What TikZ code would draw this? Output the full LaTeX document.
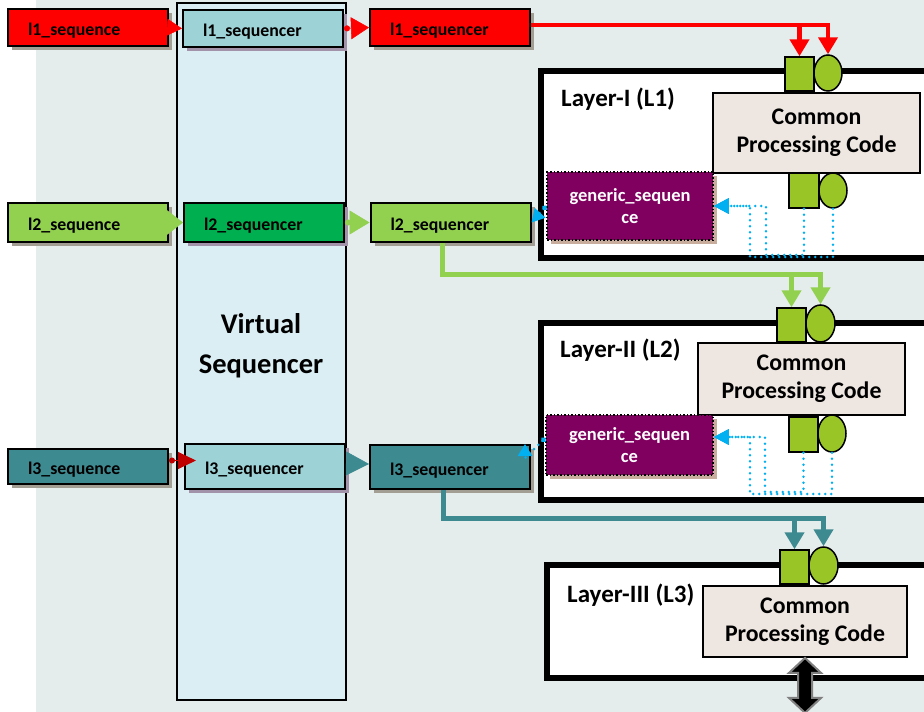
\documentclass[tikz,border=0pt]{standalone}
\usepackage{fontspec}
\setmainfont{Carlito}
\usetikzlibrary{arrows.meta,shapes.geometric,shadows}
\definecolor{bgc}{HTML}{E5ECEC}
\definecolor{vcol}{HTML}{DAEEF3}
\definecolor{lgreen}{HTML}{92D050}
\definecolor{dgreen}{HTML}{00B050}
\definecolor{tealc}{HTML}{3E8A91}
\definecolor{lteal}{HTML}{9DD3D7}
\definecolor{purp}{HTML}{800060}
\definecolor{sqg}{HTML}{99C526}
\definecolor{cpcfill}{HTML}{EEE6E0}
\definecolor{bluedot}{HTML}{00B0F0}
\definecolor{shg}{HTML}{A39E94}
\definecolor{shp}{HTML}{A393AA}
\definecolor{shb}{HTML}{C8AC9C}
\definecolor{dred}{HTML}{C00000}
\definecolor{redc}{HTML}{FF0000}
\begin{document}
\begin{tikzpicture}[x=1pt,y=-1pt,
  seqbox/.style={draw=black, line width=2pt, text width=120pt, inner xsep=20pt, inner ysep=0pt,
    text height=16pt, text depth=0pt,
    align=left, font=\fontsize{17.8}{20}\selectfont\bfseries,
    drop shadow={shadow xshift=4pt, shadow yshift=-4pt, fill=shg, opacity=1}},
  vbox/.style={seqbox, fill=lteal, drop shadow={shadow xshift=4pt, shadow yshift=-4pt, fill=shp, opacity=1}},
  layerbox/.style={draw=black, line width=6pt, fill=white, minimum width=400pt},
  laylbl/.style={anchor=base west, inner sep=0pt, font=\fontsize{25}{30}\selectfont\bfseries},
  cpc/.style={draw=black, line width=1.8pt, fill=cpcfill, align=center, inner sep=0pt,
    font=\fontsize{23.8}{28}\selectfont\bfseries},
  gen/.style={draw=black, dotted, line width=1.5pt, fill=purp, text=white, align=center,
    font=\fontsize{18.5}{22}\selectfont\bfseries,
    drop shadow={shadow xshift=4pt, shadow yshift=-4pt, fill=shb, opacity=1}},
  sqbox/.style={draw=black, line width=1.5pt, fill=sqg, inner sep=0pt},
  cibox/.style={ellipse, draw=black, line width=1.5pt, fill=sqg, inner sep=0pt},
  bdot/.style={draw=bluedot, line width=2.8pt, dash pattern=on 0pt off 6pt, line cap=round},
  feed/.style={line width=5pt, -{Triangle[length=17pt,width=19pt]}}
]
\useasboundingbox (0,0) rectangle (924,712);
\fill[bgc] (36,0) rectangle (924,712);
% virtual sequencer column
\node[draw=black, line width=1.2pt, fill=vcol, minimum width=169pt, minimum height=697pt] (vcolm) at (261.5,351.5) {};
\node[align=center, font=\fontsize{28.5}{40}\selectfont\bfseries] (vlabel) at (261,346) {Virtual\\Sequencer};

% layer boxes
\node[layerbox, minimum height=187pt] (lay1) at (741,164.5) {};
\node[layerbox, minimum height=177pt] (lay2) at (741,411.5) {};
\node[layerbox, minimum height=113pt] (lay3) at (747,621.5) {};
\node[laylbl] (lab1) at (561,106) {Layer-I (L1)};
\node[laylbl] (lab2) at (560,357) {Layer-II (L2)};
\node[laylbl] (lab3) at (567,602) {Layer-III (L3)};

% common processing code
\node[cpc, minimum width=207pt, minimum height=80pt] (cpc1) at (816.5,133) {Common\\Processing Code};
\node[cpc, minimum width=207pt, minimum height=72pt] (cpc2) at (801.5,379) {Common\\Processing Code};
\node[cpc, minimum width=204pt, minimum height=71pt] (cpc3) at (805,621.5) {Common\\Processing Code};

% squares and circles
\node[sqbox, minimum width=29pt, minimum height=34pt] (sq1t) at (799.5,74) {};
\node[cibox, minimum width=28pt, minimum height=36pt] (ci1t) at (828,73) {};
\node[sqbox, minimum width=30pt, minimum height=35pt] (sq1b) at (804,190.5) {};
\node[cibox, minimum width=28pt, minimum height=35pt] (ci1b) at (833,190.5) {};
\node[sqbox, minimum width=29pt, minimum height=34pt] (sq2t) at (791.5,325) {};
\node[cibox, minimum width=29pt, minimum height=37pt] (ci2t) at (820.5,323.5) {};
\node[sqbox, minimum width=29pt, minimum height=35pt] (sq2b) at (803.5,434.5) {};
\node[cibox, minimum width=28pt, minimum height=37pt] (ci2b) at (832,433.5) {};
\node[sqbox, minimum width=29pt, minimum height=34pt] (sq3) at (794.5,567) {};
\node[cibox, minimum width=29pt, minimum height=37pt] (ci3) at (823.5,565.5) {};

% generic sequences
\node[gen, minimum width=166pt, minimum height=68pt] (g1) at (630,206) {generic\_sequen\\ce};
\node[gen, minimum width=167pt, minimum height=60pt] (g2) at (629.5,445) {generic\_sequen\\ce};

% sequence boxes
\node[seqbox, fill=redc, minimum height=37pt] (s1) at (88,27.5) {l1\_sequence};
\node[vbox, minimum height=37pt] (v1) at (263,28.5) {l1\_sequencer};
\node[seqbox, fill=redc, minimum height=37pt] (r1) at (450,27.5) {l1\_sequencer};
\node[seqbox, fill=lgreen, minimum height=39pt] (s2) at (88,222.5) {l2\_sequence};
\node[vbox, fill=dgreen, minimum height=39pt] (v2) at (264,222.5) {l2\_sequencer};
\node[seqbox, fill=lgreen, minimum height=39pt] (r2) at (450.5,222.5) {l2\_sequencer};
\node[seqbox, fill=tealc, minimum height=35pt] (s3) at (88,466.5) {l3\_sequence};
\node[vbox, minimum height=45pt] (v3) at (265,466.5) {l3\_sequencer};
\node[seqbox, fill=tealc, minimum height=44pt] (r3) at (450,467) {l3\_sequencer};

% arrows between boxes
\draw[redc, line width=0.5pt, -{Triangle[length=15pt,width=17pt]}] (s1.east) -- (v1.west);
\draw[redc, line width=0.5pt, {Circle[length=6pt]}-{Triangle[length=18pt,width=22pt]}] (v1.east) -- (r1.west);
\draw[lgreen, line width=0.5pt, -{Triangle[length=17pt,width=26pt]}] (s2.east) -- (v2.west);
\draw[lgreen, line width=0.5pt, {Circle[length=6pt]}-{Triangle[length=20pt,width=24pt]}] (v2.east) -- (r2.west);
\draw[dred, line width=1pt, {Circle[length=6pt]}-{Triangle[length=18pt,width=17pt]}] ([yshift=6pt]s3.east) -- ([xshift=12pt,yshift=6pt]v3.west);
\draw[tealc, line width=0.5pt, -{Triangle[length=23pt,width=24pt]}] ([yshift=3pt]v3.east) -- ([yshift=3pt]r3.west);

% feed lines into layers
\coordinate (rj) at (0,25);
\draw[redc, feed, line width=4.5pt] (r1.east |- rj) -| (ci1t.north);
\draw[redc, feed, line width=4.5pt] (sq1t.north |- rj) -- (sq1t.north);
\coordinate (gj) at (0,274);
\draw[lgreen, feed] ([xshift=-8pt]r2.south) |- (ci2t.north |- gj) -- (ci2t.north);
\draw[lgreen, feed] (sq2t.north |- gj) -- (sq2t.north);
\coordinate (tj) at (0,518);
\draw[tealc, feed] ([xshift=-7pt]r3.south) |- (ci3.north |- tj) -- (ci3.north);
\draw[tealc, feed] (sq3.north |- tj) -- (sq3.north);

% blue dotted feedback loops
\draw[bdot, -{Triangle[length=15pt,width=15pt]}] (ci1b.south) -- (ci1b.south |- 0,257) -- (750,257) -- (750,206) -- (g1.east);
\draw[bdot, -{Triangle[length=15pt,width=15pt]}] (sq1b.south) -- (sq1b.south |- 0,255) -- (766,255) -- (766,206) -- (g1.east);
\draw[bdot, -{Triangle[length=15pt,width=15pt]}] (ci2b.south) -- (ci2b.south |- 0,494) -- (750,494) -- (750,437) -- ([yshift=8pt]g2.east);
\draw[bdot, -{Triangle[length=15pt,width=15pt]}] (sq2b.south) -- (sq2b.south |- 0,492) -- (765,492) -- (765,437) -- ([yshift=8pt]g2.east);
\draw[bdot, {Circle[length=5pt]}-{Triangle[length=13pt,width=14pt]}] (g1.west) -- (r2.east);
\draw[bdot, {Circle[length=5pt]}-{Triangle[length=12pt,width=14pt]}] ([yshift=7pt]g2.west) -- ([xshift=-6pt,yshift=-14pt]r3.north east) -- ([xshift=-6pt]r3.north east);

% double arrow below layer III
\draw[fill=black, draw=gray, line width=2pt] (cpc3.south) -- ++(16,15) -- ++(-9,0) -- ++(0,25) -- ++(9,0) -- ++(-16,15) -- ++(-16,-15) -- ++(9,0) -- ++(0,-25) -- ++(-9,0) -- cycle;
\end{tikzpicture}
\end{document}
